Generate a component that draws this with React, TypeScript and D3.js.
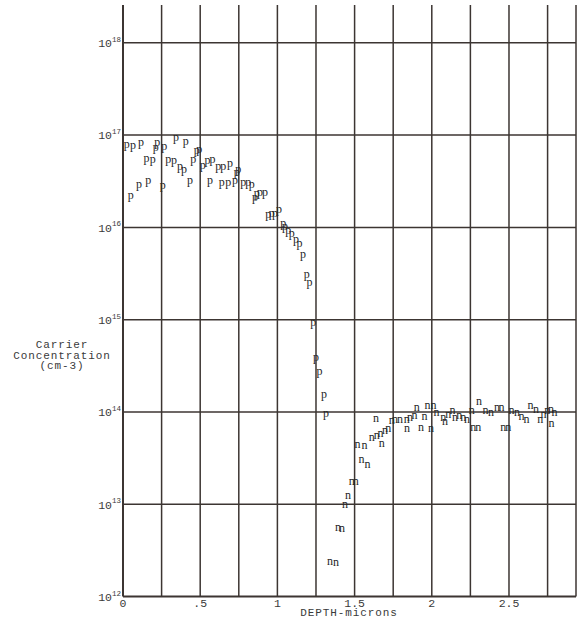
import React from 'react';
import * as d3 from 'd3';

// Spreading-resistance style carrier profile: p-type layer over n-type substrate.
const W = 578;
const H = 619;

const plotLeft = 123;
const plotRight = 576;
const plotTop = 5;
const plotBottom = 596.5;

const depthMax = 2.934;
const concMin = 1e12;
const concMax = Math.pow(10, 18.41);

const gridDepths = [0, 0.25, 0.5, 0.75, 1, 1.25, 1.5, 1.75, 2, 2.25, 2.5, 2.75];
const depthTicks = [0, 0.5, 1, 1.5, 2, 2.5];
const depthTickLabels = ['0', '.5', '1', '1.5', '2', '2.5'];
const decadeExponents = [12, 13, 14, 15, 16, 17, 18];

// p-type points (depth in microns, concentration in cm-3)
const pDepth = [
  0.024, 0.065, 0.117, 0.222, 0.212, 0.267, 0.343, 0.406, 0.455, 0.477,
  0.494, 0.153, 0.192, 0.293, 0.330, 0.369, 0.395, 0.434, 0.516, 0.547,
  0.579, 0.563, 0.050, 0.104, 0.164, 0.257, 0.617, 0.650, 0.693, 0.639,
  0.682, 0.725, 0.736, 0.747, 0.779, 0.812, 0.834, 0.866, 0.887, 0.920,
  0.855, 0.941, 0.963, 0.984, 1.010, 1.038, 1.049, 1.071, 1.093, 1.120,
  1.143, 1.166, 1.190, 1.208, 1.233, 1.250, 1.273, 1.302, 1.315,
];
const pConc = [
  7.5e16, 7.4e16, 7.9e16, 8.0e16, 7.0e16, 7.2e16, 9.0e16, 8.2e16, 5.2e16, 6.5e16,
  6.6e16, 5.3e16, 5.2e16, 5.2e16, 5.0e16, 4.4e16, 4.0e16, 3.1e16, 4.5e16, 5.0e16,
  5.2e16, 3.1e16, 2.1e16, 2.8e16, 3.1e16, 2.7e16, 4.3e16, 4.4e16, 4.7e16, 2.9e16,
  2.9e16, 3.1e16, 3.7e16, 4.0e16, 2.9e16, 2.9e16, 2.8e16, 2.2e16, 2.3e16, 2.3e16,
  2.0e16, 1.31e16, 1.34e16, 1.36e16, 1.48e16, 1.06e16, 9.8e15, 8.8e15, 8.2e15, 7.1e15,
  6.3e15, 4.8e15, 2.9e15, 2.4e15, 8.9e14, 3.7e14, 2.6e14, 1.48e14, 9.1e13,
];

// n-type points (depth in microns, concentration in cm-3)
const nDepth = [
  1.341, 1.380, 1.392, 1.418, 1.438, 1.457, 1.481, 1.507, 1.545, 1.584,
  1.519, 1.564, 1.611, 1.643, 1.668, 1.697, 1.718, 1.676, 1.639, 1.740,
  1.762, 1.794, 1.837, 1.859, 1.839, 1.888, 1.902, 1.953, 1.930, 1.972,
  1.995, 2.011, 2.030, 2.074, 2.085, 2.107, 2.134, 2.150, 2.178, 2.204,
  2.228, 2.258, 2.306, 2.269, 2.301, 2.348, 2.383, 2.422, 2.451, 2.463,
  2.495, 2.516, 2.552, 2.581, 2.613, 2.639, 2.675, 2.703, 2.723, 2.748,
  2.772, 2.795, 2.775,
];
const nConc = [
  2.35e12, 2.3e12, 5.5e12, 5.4e12, 9.8e12, 1.22e13, 1.75e13, 1.75e13, 3.0e13, 2.65e13,
  4.4e13, 4.3e13, 5.2e13, 5.4e13, 5.7e13, 6.2e13, 6.5e13, 4.5e13, 8.4e13, 7.9e13,
  8.1e13, 8.1e13, 8.2e13, 8.5e13, 6.5e13, 9.0e13, 1.09e14, 8.7e13, 6.6e13, 1.16e14,
  6.5e13, 1.14e14, 9.6e13, 8.6e13, 7.8e13, 9.2e13, 1.03e14, 8.5e13, 8.9e13, 8.5e13,
  8.2e13, 1.03e14, 1.26e14, 6.6e13, 6.6e13, 1.03e14, 9.6e13, 1.09e14, 1.09e14, 6.6e13,
  6.6e13, 1.03e14, 9.6e13, 8.7e13, 8.1e13, 1.16e14, 1.05e14, 8.1e13, 9.2e13, 1.02e14,
  1.05e14, 9.6e13, 7.3e13,
];

const yTitleLines = ['Carrier', 'Concentration', '(cm-3)'];
const xTitle = 'DEPTH-microns';

const lineColor = '#3c3532';
const textColor = '#3a3a3a';
const markColor = '#262626';
const monoFont = "'Liberation Mono', 'DejaVu Sans Mono', monospace";
const markFont = "'Liberation Serif', 'DejaVu Serif', serif";

export default function App() {
  const x = d3.scaleLinear().domain([0, depthMax]).range([plotLeft, plotRight]);
  const y = d3.scaleLog().domain([concMin, concMax]).range([plotBottom, plotTop]);

  return (
    <svg
      width={W}
      height={H}
      viewBox={`0 0 ${W} ${H}`}
      style={{ position: 'absolute', left: 0, top: 0, background: '#fff' }}
    >
      <rect x={0} y={0} width={W} height={H} fill="#fff" />

      {/* decade grid lines */}
      {decadeExponents.map((e) => (
        <line
          key={`h${e}`}
          x1={plotLeft}
          x2={plotRight}
          y1={y(Math.pow(10, e))}
          y2={y(Math.pow(10, e))}
          stroke={lineColor}
          strokeWidth={e === 12 ? 2 : 1.5}
        />
      ))}

      {/* depth grid lines */}
      {gridDepths.map((d) => (
        <line
          key={`v${d}`}
          x1={x(d)}
          x2={x(d)}
          y1={plotTop}
          y2={plotBottom}
          stroke={lineColor}
          strokeWidth={d === 0 ? 2 : 1.5}
        />
      ))}
      <line x1={plotRight} x2={plotRight} y1={plotTop} y2={plotBottom} stroke={lineColor} strokeWidth={1.5} />

      {/* y tick labels */}
      {decadeExponents.map((e) => (
        <text
          key={`yl${e}`}
          x={121}
          y={y(Math.pow(10, e)) + 4.3}
          textAnchor="end"
          fontFamily={monoFont}
          fontSize={11.5}
          fill={textColor}
        >
          10
          <tspan dy={-5.3} fontSize={7.5}>
            {e}
          </tspan>
        </text>
      ))}

      {/* x tick labels */}
      {depthTicks.map((d, i) => (
        <text
          key={`xl${d}`}
          x={x(d)}
          y={607}
          textAnchor="middle"
          fontFamily={monoFont}
          fontSize={11.5}
          fill={textColor}
        >
          {depthTickLabels[i]}
        </text>
      ))}

      {/* axis titles */}
      <text
        x={349}
        y={615.5}
        textAnchor="middle"
        fontFamily={monoFont}
        fontSize={11}
        letterSpacing={0.9}
        fill={textColor}
      >
        {xTitle}
      </text>
      {yTitleLines.map((t, i) => (
        <text
          key={t}
          x={62}
          y={348 + i * 10.5}
          textAnchor="middle"
          fontFamily={monoFont}
          fontSize={11}
          letterSpacing={0.9}
          fill={textColor}
        >
          {t}
        </text>
      ))}

      {/* p-type points */}
      {pDepth.map((d, i) => (
        <text
          key={`p${i}`}
          x={x(d)}
          y={y(pConc[i]) + 1.5}
          textAnchor="middle"
          fontFamily={markFont}
          fontSize={12}
          fill={markColor}
        >
          p
        </text>
      ))}

      {/* n-type points */}
      {nDepth.map((d, i) => (
        <text
          key={`n${i}`}
          x={x(d)}
          y={y(nConc[i]) + 2.75}
          textAnchor="middle"
          fontFamily={markFont}
          fontSize={12}
          fill={markColor}
        >
          n
        </text>
      ))}
    </svg>
  );
}
